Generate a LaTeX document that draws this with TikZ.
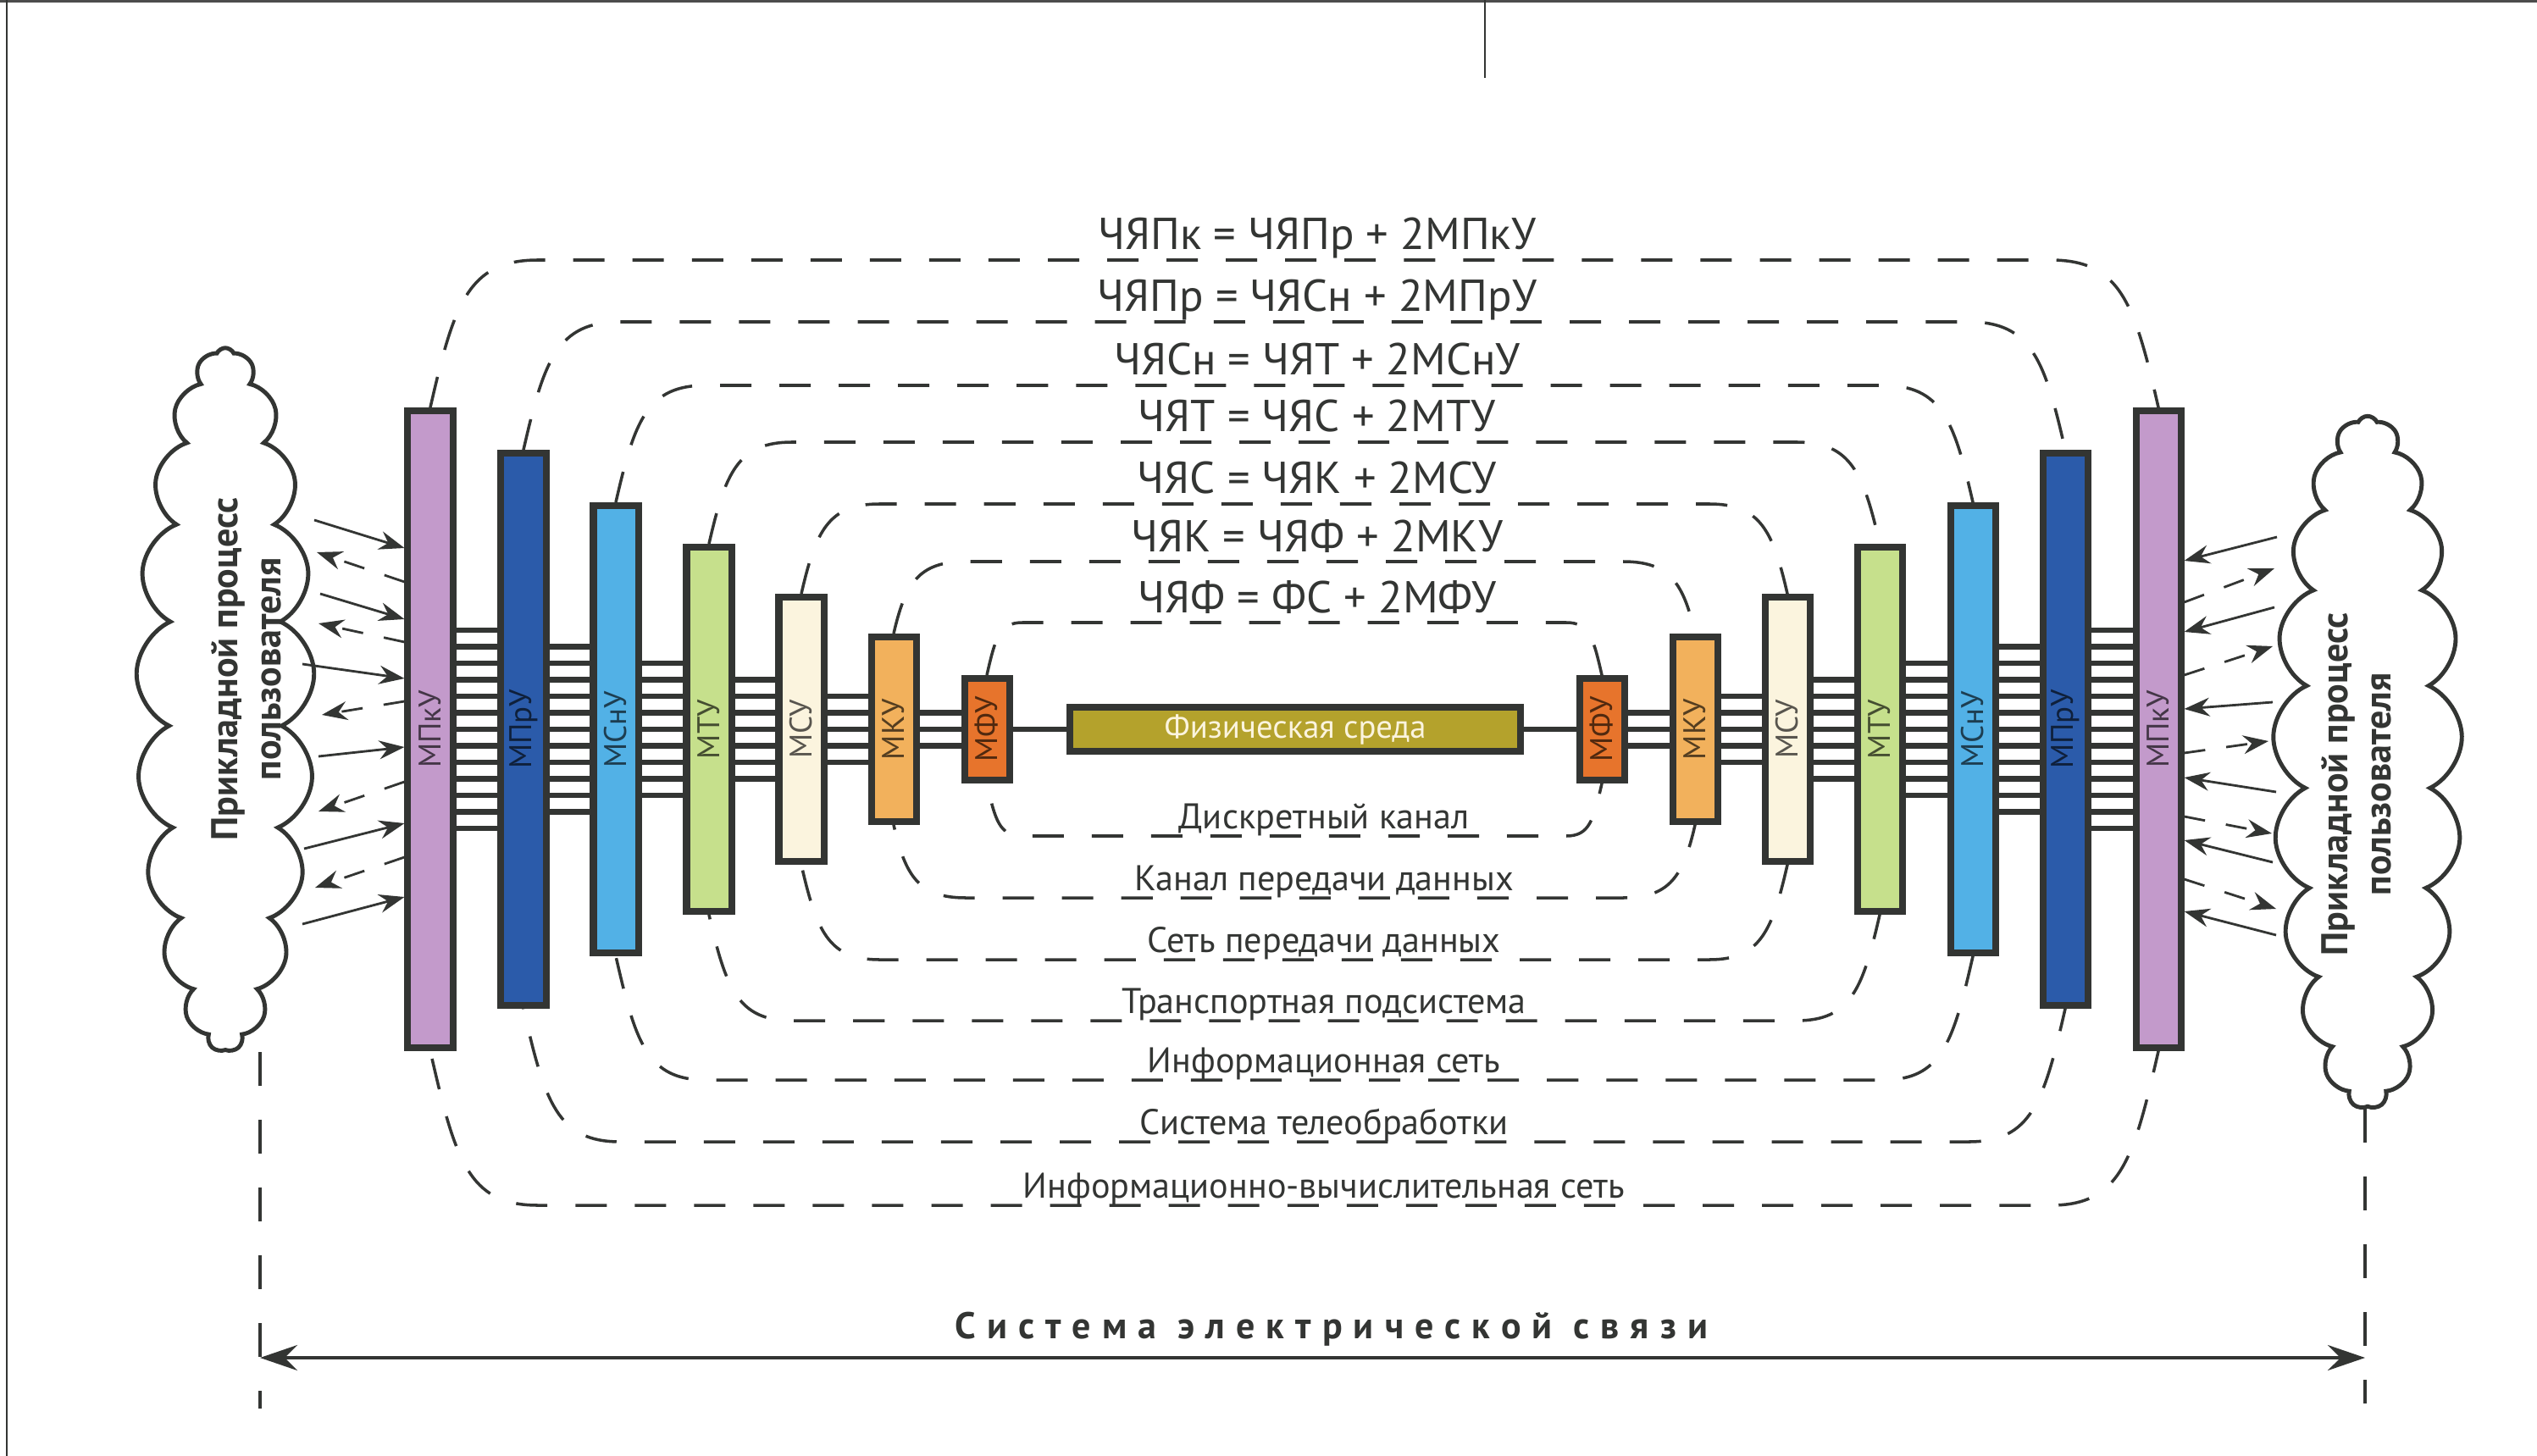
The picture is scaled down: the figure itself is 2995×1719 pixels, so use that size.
\documentclass[tikz,border=0pt]{standalone}
\usepackage{fontspec}
\setmainfont{PT Sans}
\usepackage{graphicx}
\usetikzlibrary{arrows.meta,shapes.symbols,backgrounds}

\definecolor{ink}{HTML}{333533}
\definecolor{cPk}{HTML}{C39ACB}
\definecolor{cPr}{HTML}{2B5BAA}
\definecolor{cSn}{HTML}{52B1E6}
\definecolor{cT}{HTML}{C6E08C}
\definecolor{cS}{HTML}{FBF4DE}
\definecolor{cK}{HTML}{F2B15C}
\definecolor{cF}{HTML}{E7742C}
\definecolor{cFS}{HTML}{B4A22C}

\tikzset{
  module/.style={draw=ink, line width=0.08cm, minimum width=0.53cm, inner sep=0pt,
    font=\fontsize{10.5}{12}\selectfont},
  bus/.style={ink, line width=0.068cm},
  contour/.style={ink, line width=1pt, dash pattern=on 0.37cm off 0.33cm},
  flow/.style={ink, line width=0.8pt, -{Stealth[length=0.3cm,width=0.22cm,inset=0.1cm]}},
  back/.style={flow, dash pattern=on 0.25cm off 0.25cm},
  eqn/.style={font=\fontsize{15}{17}\selectfont, text=ink, anchor=base},
  layer/.style={font=\fontsize{12}{14}\selectfont, text=ink, anchor=base},
  user/.style={draw=ink, line width=1.4pt, shape=cloud, cloud puffs=21, cloud puff arc=130,
    cloud ignores aspect, inner sep=0pt},
  usertext/.style={rotate=90, align=center, text=ink,
    font=\bfseries\fontsize{12.5}{14.5}\selectfont},
  edge/.style={ink, line width=0.9pt, dash pattern=on 0.4cm off 0.4cm},
  span/.style={ink, line width=1pt, {Stealth[length=0.44cm,width=0.3cm,inset=0.15cm]}-{Stealth[length=0.44cm,width=0.3cm,inset=0.15cm]}},
}

\begin{document}
\begin{tikzpicture}[x=0.01cm, y=-0.01cm]
\useasboundingbox (0,0) rectangle (2995,1719);

% modules, left and right of the medium
\foreach \n/\dx/\h/\c/\t in {1/1020/380/cPk/МПкУ, 2/910/330/cPr/МПрУ, 3/801/268/cSn/МСнУ,
    4/691/219/cT/МТУ, 5/582/160/cS/МСУ, 6/473/113/cK/МКУ, 7/363/64/cF/МФУ} {
  \pgfmathsetmacro\hh{(2*\h-8)/100}
  \node[module, fill=\c, text=\c!35!black, minimum height=\hh cm] (mL\n) at (1528-\dx,861) {\rotatebox{90}{\t}};
  \node[module, fill=\c, text=\c!35!black, minimum height=\hh cm] (mR\n) at (1528+\dx,861) {\rotatebox{90}{\t}};
}
\node[module, fill=cFS, text=cS, minimum width=5.32cm, minimum height=0.52cm,
  font=\fontsize{11}{13}\selectfont] (fs) at (1529,861) {Физическая среда};

\begin{scope}[on background layer]
\fill[white] (0,0) rectangle (2995,1719);
% buses between neighbouring modules
\draw[bus] (mL7) -- (fs) -- (mR7);
\foreach \i/\n in {1/13, 2/11, 3/9, 4/7, 5/5, 6/3} {
  \pgfmathtruncatemacro\j{\i+1}
  \foreach \k in {1,...,\n} {
    \pgfmathsetmacro\off{(\k-(\n+1)/2)*0.195}
    \draw[bus] ([yshift=\off cm]mL\i.center) -- ([yshift=\off cm]mL\j.center);
    \draw[bus] ([yshift=\off cm]mR\i.center) -- ([yshift=\off cm]mR\j.center);
  }
}
% dashed levels
\foreach \dx/\h/\T/\B/\a in {1020/380/307/1423/127, 910/330/380/1348/114, 801/268/455/1275/106,
    691/219/522/1205/98, 582/160/595/1133/92, 473/113/663/1060/85, 363/64/735/987/42} {
  \pgfmathsetmacro\xl{1528-\dx}
  \pgfmathsetmacro\xr{1528+\dx}
  \pgfmathsetmacro\yt{861-\h}
  \pgfmathsetmacro\yb{861+\h}
  \pgfmathsetmacro\dt{\yt-\T}
  \pgfmathsetmacro\db{\B-\yb}
  \draw[contour] (\xl,\yt) .. controls (\xl+0.16*\dt,\yt-0.7*\dt) and (\xl+0.35*\a,\T) .. (\xl+\a,\T)
    -- (\xr-\a,\T) .. controls (\xr-0.35*\a,\T) and (\xr-0.16*\dt,\yt-0.7*\dt) .. (\xr,\yt)
    -- (\xr,\yb) .. controls (\xr-0.16*\db,\yb+0.7*\db) and (\xr-0.35*\a,\B) .. (\xr-\a,\B)
    -- (\xl+\a,\B) .. controls (\xl+0.35*\a,\B) and (\xl+0.16*\db,\yb+0.7*\db) .. (\xl,\yb) -- cycle;
}
\end{scope}

% level formulas and names
\foreach \n/\y/\t in {1/295/ЧЯПк = ЧЯПр + 2МПкУ, 2/368/ЧЯПр = ЧЯСн + 2МПрУ, 3/443/ЧЯСн = ЧЯТ + 2МСнУ,
    4/510/ЧЯТ = ЧЯС + 2МТУ, 5/582/ЧЯС = ЧЯК + 2МСУ, 6/651/ЧЯК = ЧЯФ + 2МКУ, 7/723/ЧЯФ = ФС + 2МФУ}
  \node[eqn] (e\n) at (1555,\y) {\t};
\foreach \n/\y/\t in {1/1414/Информационно-вычислительная сеть, 2/1339/Система телеобработки,
    3/1266/Информационная сеть, 4/1196/Транспортная подсистема, 5/1124/Сеть передачи данных,
    6/1051/Канал передачи данных, 7/978/Дискретный канал}
  \node[layer] (n\n) at (1563,\y) {\t};

% user processes
\node[user, minimum width=2.1cm, minimum height=8.3cm] (cloudL) at (266,826) {};
\node[user, minimum width=2.23cm, minimum height=8.17cm] (cloudR) at (2795,900) {};
\node[usertext] (procL) at (291,790) {Прикладной процесс\\пользователя};
\node[usertext] (procR) at (2782,926) {Прикладной процесс\\пользователя};

\foreach \xa/\ya/\yb in {371/614/647, 378/701/731, 357/784/801, 376/893/882, 359/1002/972, 357/1091/1059}
  \draw[flow] (\xa,\ya) -- (mL1.west |- 0,\yb);
\foreach \ya/\xb/\yb in {687/374/652, 758/376/736, 828/380/844, 923/376/958, 1012/372/1048}
  \draw[back] (mL1.west |- 0,\ya) -- (\xb,\yb);
\foreach \xa/\ya/\yb in {2688/634/662, 2685/717/746, 2683/829/837, 2687/935/918, 2683/1018/992, 2687/1104/1076}
  \draw[flow] (\xa,\ya) -- (mR1.east |- 0,\yb);
\foreach \ya/\xb/\yb in {711/2685/671, 797/2683/763, 889/2678/875, 964/2682/984, 1038/2687/1073}
  \draw[back] (mR1.east |- 0,\ya) -- (\xb,\yb);

% the whole system
\coordinate (sysL) at (307,1663);
\coordinate (sysR) at (2792,1657);
\draw[edge] (sysL |- cloudL.south) -- (sysL);
\draw[edge] (sysR |- cloudR.south) -- (sysR);
\draw[span] (sysL |- 0,1603) -- (sysR |- 0,1603);
\node[anchor=base, text=ink, font=\bfseries\fontsize{12.5}{14}\selectfont\addfontfeature{LetterSpace=30}]
  (title) at (1572,1580) {Система электрической связи};

% page edges
\draw[black!70, line width=0.03cm] (0,1.5) -- (2995,1.5);
\draw[ink, line width=0.5pt] (8,0) -- (8,1719);
\draw[ink, line width=0.7pt] (1753,0) -- (1753,92);
\end{tikzpicture}
\end{document}
